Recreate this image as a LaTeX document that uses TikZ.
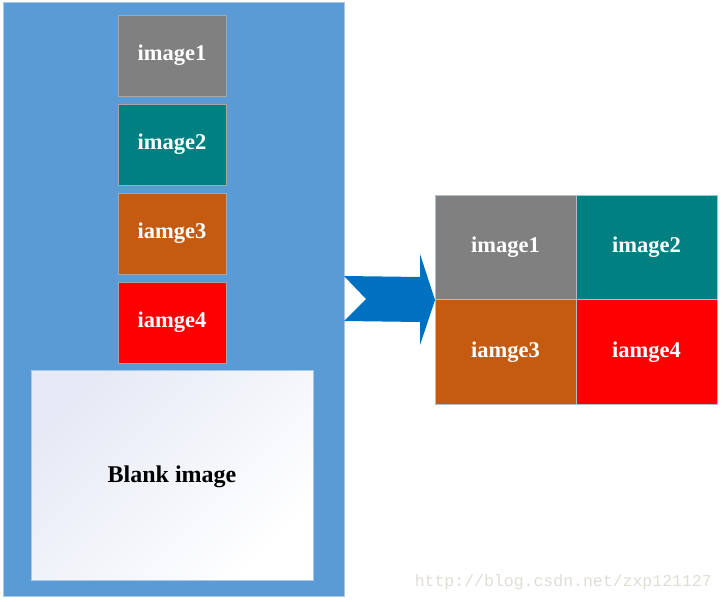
\documentclass[tikz,border=0pt]{standalone}
\usepackage{fontspec}
\setmainfont{Liberation Serif}
\newfontfamily\wmfont{Liberation Mono}
\definecolor{panelblue}{HTML}{5B9BD5}
\definecolor{panelline}{HTML}{A8C8EA}
\definecolor{boxline}{HTML}{A6A6A6}
\definecolor{cgray}{HTML}{808080}
\definecolor{cteal}{HTML}{008080}
\definecolor{corange}{HTML}{C55A11}
\definecolor{cred}{HTML}{FF0000}
\definecolor{arrowblue}{HTML}{0070C0}
\definecolor{blanktl}{HTML}{E6EAF6}
\definecolor{wmgray}{HTML}{E0DDD6}
\definecolor{gridline}{HTML}{B4BCC8}
\begin{document}
\begin{tikzpicture}[x=1pt,y=-1pt,
  imgbox/.style={draw=boxline, line width=0.8pt, text=white, font=\bfseries\fontsize{22.5}{26}\selectfont,
    minimum width=108pt, minimum height=81pt, inner sep=0pt, outer sep=0pt, anchor=north west},
  gridcell/.style={draw=gridline, line width=0.8pt, text=white, font=\bfseries\fontsize{22.5}{26}\selectfont,
    minimum width=141pt, minimum height=104.5pt, inner sep=0pt, outer sep=0pt, anchor=north west}]
\useasboundingbox (0,0) rectangle (723,602);
% left panel
\node[draw=panelline, line width=1pt, fill=panelblue, minimum width=341pt, minimum height=593pt,
  inner sep=0pt, outer sep=0pt, anchor=north west] (panel) at (3,3) {};
\node[imgbox, fill=cgray]   (l1) at (118,15)  {image1};
\node[imgbox, fill=cteal]   (l2) at (118,104) {image2};
\node[imgbox, fill=corange] (l3) at (118,193) {iamge3};
\node[imgbox, fill=cred]    (l4) at (118,282) {iamge4};
% blank image
\node[draw=panelline, line width=0.8pt, minimum width=282pt, minimum height=210pt, inner sep=0pt,
  outer sep=0pt, anchor=north west, left color=blanktl, middle color=white!98!blanktl, right color=white,
  shading angle=45] (blank) at (31,370) {};
\node[font=\bfseries\fontsize{24}{28}\selectfont, text=black] (blanklabel) at ([yshift=-2pt]blank.center) {Blank image};
% arrow
\path[fill=arrowblue] (344,276) -- (420,277) -- (420,254) -- (435,300) -- (420,345) -- (420,322)
  -- (344,321) -- (366,299) -- cycle;
% right grid
\node[gridcell, fill=cgray]   (r1) at (435,195)   {image1};
\node[gridcell, fill=cteal]   (r2) at (576,195)   {image2};
\node[gridcell, fill=corange] (r3) at (435,299.5) {iamge3};
\node[gridcell, fill=cred]    (r4) at (576,299.5) {iamge4};
% watermark
\node[font=\wmfont\fontsize{16.5}{18}\selectfont, text=wmgray, anchor=east, inner sep=0pt] (wm) at (712,582) {http://blog.csdn.net/zxp121127};
\end{tikzpicture}
\end{document}
